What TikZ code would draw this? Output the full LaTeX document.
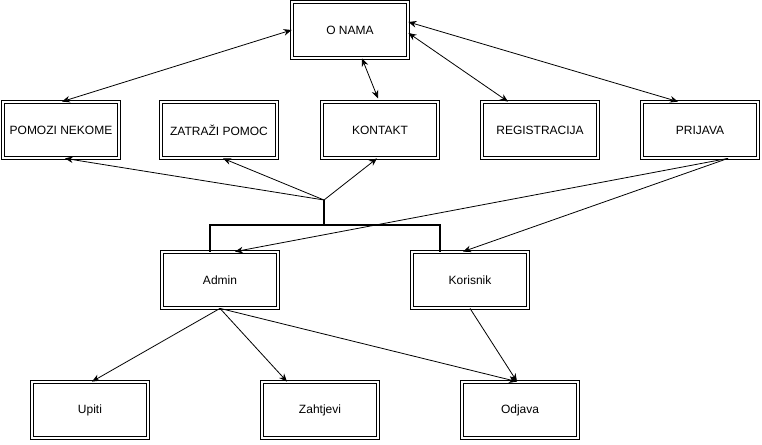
\documentclass[tikz,border=0pt]{standalone}
\usepackage{fontspec}
\setmainfont{Liberation Sans}
\usetikzlibrary{calc,arrows.meta}
\begin{document}
\begin{tikzpicture}[x=0.75pt,y=-0.75pt,
  box/.style={draw=black,double=white,double distance=1.9pt,line width=0.6pt,
    minimum width=87pt,minimum height=42pt,inner sep=0pt,font=\fontsize{9}{11}\selectfont},
  conn/.style={line width=0.6pt,-{Stealth[length=6pt,width=5pt]}},
  both/.style={line width=0.6pt,{Stealth[length=6pt,width=5pt]}-{Stealth[length=6pt,width=5pt]}},
  bracket/.style={line width=1.4pt}]
\useasboundingbox (0,0) rectangle (762,445);
\node[box] (onama) at (350,30) {O NAMA};
\node[box] (pomozi) at (61,130) {POMOZI NEKOME};
\node[box] (zatrazi) at (219,130) {ZATRAŽI POMOC};
\node[box] (kontakt) at (380,130) {KONTAKT};
\node[box] (reg) at (540,130) {REGISTRACIJA};
\node[box] (prijava) at (700,130) {PRIJAVA};
\node[box] (admin) at (220,280) {Admin};
\node[box] (korisnik) at (470,280) {Korisnik};
\node[box] (upiti) at (90,410) {Upiti};
\node[box] (zahtjevi) at (320,410) {Zahtjevi};
\node[box] (odjava) at (520,410) {Odjava};
\coordinate (j) at (324,200);
\coordinate (jb) at (324,225);
% O NAMA links
\draw[both] (onama.west) -- ($(pomozi.north)+(1,0)$);
\draw[both] ($(onama.south)+(12,0)$) -- ($(kontakt.south)+(-2,-60)$);
\draw[both] ($(onama.east)+(0,3)$) -- ($(reg.north)+(-32,0)$);
\draw[both] ($(onama.east)+(0,-8)$) -- ($(prijava.north)+(-22,0)$);
% bracket
\draw[bracket] (j) -- (jb);
\draw[bracket] ($(admin.north)+(-10,0)$) |- (jb) -| ($(korisnik.north)+(-30,0)$);
% junction arrows
\draw[conn] (j) -- ($(pomozi.south)+(4,0)$);
\draw[conn] (j) -- ($(zatrazi.south)+(4,0)$);
\draw[conn] (j) -- ($(kontakt.south)+(-3,0)$);
% prijava
\draw[conn] ($(prijava.south)+(28,0)$) -- ($(admin.north)+(15,0)$);
\draw[conn] ($(prijava.south)+(28,0)$) -- ($(korisnik.north)+(-7,0)$);
% bottom
\draw[conn] (admin.south) -- ($(upiti.north)+(2,0)$);
\draw[conn] (admin.south) -- ($(zahtjevi.north)+(-33,0)$);
\draw[conn] (admin.south) -- ($(odjava.north)+(-3,0)$);
\draw[conn] (korisnik.south) -- ($(odjava.north)+(-3,0)$);
\end{tikzpicture}
\end{document}
